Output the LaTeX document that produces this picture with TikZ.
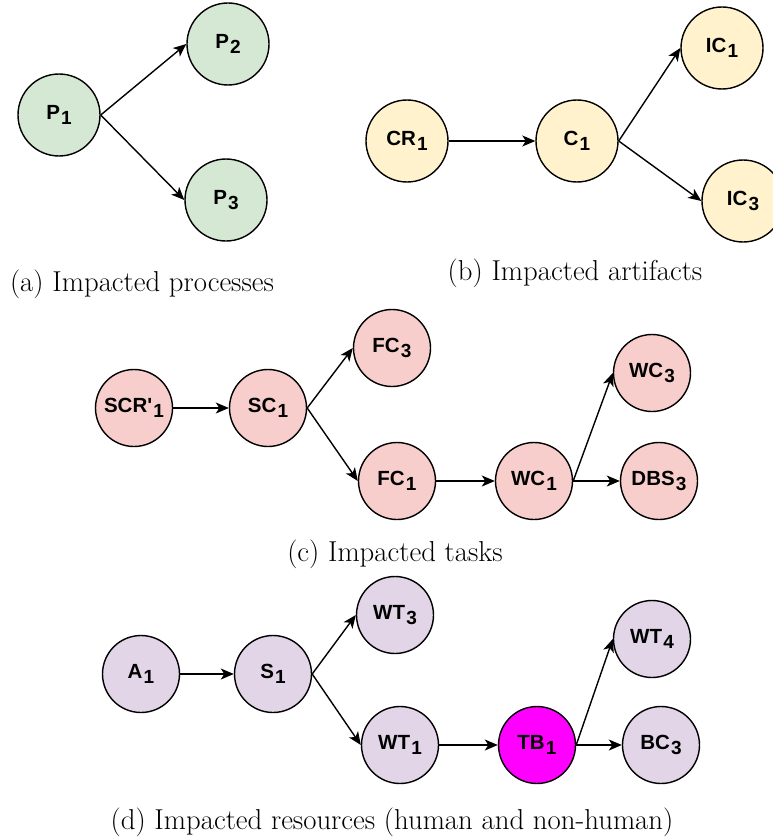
\documentclass[tikz,border=0pt]{standalone}
\usepackage{fontspec}
\newfontfamily\nodefont{Liberation Sans}
\usetikzlibrary{arrows.meta}
\definecolor{cgreen}{HTML}{D5E8D4}
\definecolor{cyellow}{HTML}{FFF2CC}
\definecolor{cred}{HTML}{F8CECC}
\definecolor{cpurple}{HTML}{E1D5E7}
\definecolor{cmag}{HTML}{FF00FF}
\newcommand\nsub[1]{\kern1.2pt\raisebox{-5.5pt}{\fontsize{19}{19}\selectfont #1}}
\tikzset{
  nd/.style={circle, draw=black, line width=1.4pt, inner sep=0pt, minimum size=77pt,
    font=\nodefont\bfseries\fontsize{20.5}{20.5}\selectfont},
  big/.style={minimum size=82pt},
  conn/.style={line width=1.4pt, -{Stealth[length=13pt,width=11pt,inset=3.5pt]}},
  captxt/.style={font=\fontsize{28.8}{32}\selectfont, anchor=base, inner sep=0pt}
}
\begin{document}
\begin{tikzpicture}[x=1pt,y=-1pt]
\useasboundingbox (0,0) rectangle (773,840);
\clip (0,0) rectangle (773,840);
% (a)
\node[nd,big,fill=cgreen] (p1) at (59,115) {P\nsub{1}};
\node[nd,big,fill=cgreen] (p2) at (228,44) {P\nsub{2}};
\node[nd,big,fill=cgreen] (p3) at (226,200) {P\nsub{3}};
\draw[conn] (p1.east) -- (p2.west);
\draw[conn] (p1.east) -- (p3.west);
\node[captxt] (capa) at (142,291) {(a) Impacted processes};
% (b)
\node[nd,big,fill=cyellow] (cr1) at (407,141) {CR\nsub{1}};
\node[nd,big,fill=cyellow] (c1) at (577,141) {C\nsub{1}};
\node[nd,big,fill=cyellow] (ic1) at (722,48) {IC\nsub{1}};
\node[nd,big,fill=cyellow] (ic3) at (743,201) {IC\nsub{3}};
\draw[conn] (cr1.east) -- (c1.west);
\draw[conn] (c1.east) -- (ic1.west);
\draw[conn] (c1.east) -- (ic3.west);
\node[captxt] (capb) at (575,280) {(b) Impacted artifacts};
% (c)
\node[nd,fill=cred] (scr) at (134,408) {SCR'\nsub{1}};
\node[nd,fill=cred] (sc1) at (268,408) {SC\nsub{1}};
\node[nd,fill=cred] (fc3) at (392,348) {FC\nsub{3}};
\node[nd,fill=cred] (fc1) at (397,481) {FC\nsub{1}};
\node[nd,fill=cred] (wc1) at (534,481) {WC\nsub{1}};
\node[nd,fill=cred] (wc3) at (652,373) {WC\nsub{3}};
\node[nd,fill=cred] (dbs3) at (659,481) {DBS\nsub{3}};
\draw[conn] (scr.east) -- (sc1.west);
\draw[conn] (sc1.east) -- (fc3.west);
\draw[conn] (sc1.east) -- (fc1.west);
\draw[conn] (fc1.east) -- (wc1.west);
\draw[conn] (wc1.east) -- (wc3.west);
\draw[conn] (wc1.east) -- (dbs3.west);
\node[captxt] (capc) at (395,561) {(c) Impacted tasks};
% (d)
\node[nd,fill=cpurple] (a1) at (141,674) {A\nsub{1}};
\node[nd,fill=cpurple] (s1) at (273,674) {S\nsub{1}};
\node[nd,fill=cpurple] (wt3) at (395,615) {WT\nsub{3}};
\node[nd,fill=cpurple] (wt1) at (400,745) {WT\nsub{1}};
\node[nd,fill=cmag] (tb1) at (537,745) {TB\nsub{1}};
\node[nd,fill=cpurple] (wt4) at (652,639) {WT\nsub{4}};
\node[nd,fill=cpurple] (bc3) at (661,745) {BC\nsub{3}};
\draw[conn] (a1.east) -- (s1.west);
\draw[conn] (s1.east) -- (wt3.west);
\draw[conn] (s1.east) -- (wt1.west);
\draw[conn] (wt1.east) -- (tb1.west);
\draw[conn] (tb1.east) -- (wt4.west);
\draw[conn] (tb1.east) -- (bc3.west);
\node[captxt] (capd) at (392,829) {(d) Impacted resources (human and non-human)};
\end{tikzpicture}
\end{document}
